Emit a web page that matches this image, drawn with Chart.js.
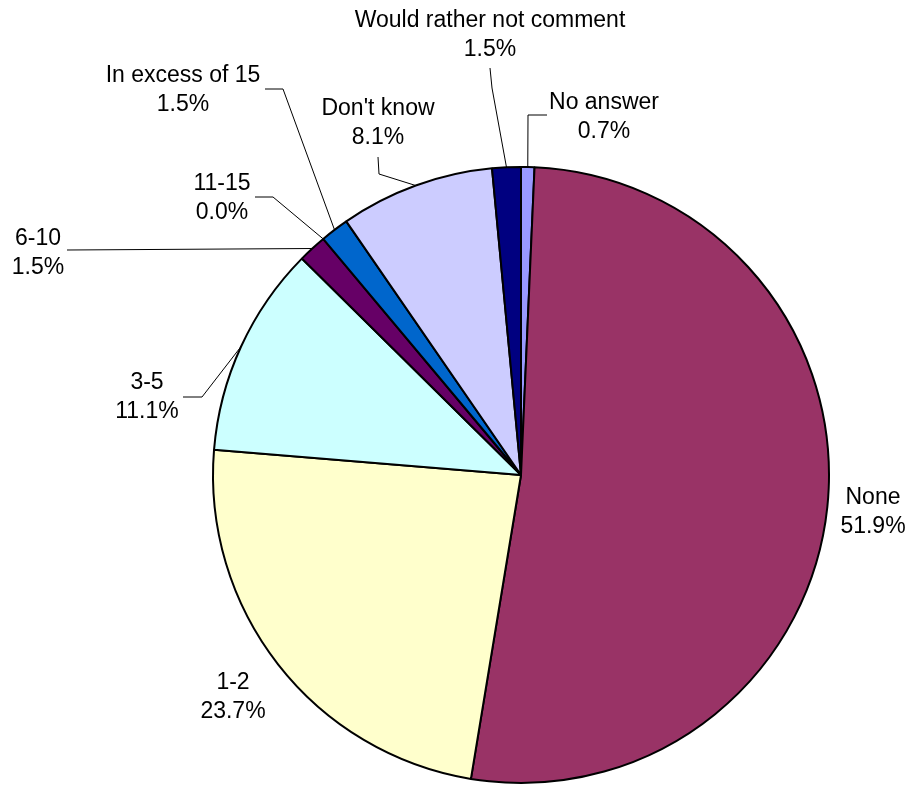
<!DOCTYPE html>
<html>
<head>
<meta charset="utf-8">
<script src="https://cdn.jsdelivr.net/npm/chart.js@4/dist/chart.umd.min.js"></script>
<style>
  html, body { margin: 0; padding: 0; background: #fff; }
  #wrap { width: 912px; height: 785px; position: relative; }
</style>
</head>
<body>
<div id="wrap"><canvas id="myChart"></canvas></div>
<script>
// slices, clockwise from 12 o'clock
var kategorien = ['No answer', 'None', '1-2', '3-5', '6-10', '11-15', 'In excess of 15', "Don't know", 'Would rather not comment'];
var anteile = [0.7, 51.9, 23.7, 11.1, 1.5, 0.0, 1.5, 8.1, 1.5];
var farben = ['#9999FF', '#993366', '#FFFFCC', '#CCFFFF', '#660066', '#FF8080', '#0066CC', '#CCCCFF', '#000080'];

// where the labels sit, relative to the pie centre; leader = start + elbow relative to the label
var beschriftung = [
    { dx: 83, dy: -358, start: [-57, -2], knick: [-76, -2] },
    { dx: 352, dy: 37, start: null },
    { dx: -288, dy: 222, start: null },
    { dx: -374, dy: -78, start: [36, 0], knick: [55, 0] },
    { dx: -483, dy: -222, start: [29, -3], knick: [29, -3] },
    { dx: -299, dy: -277, start: [33, -1], knick: [51, -1] },
    { dx: -338, dy: -385, start: [82, -1], knick: [100, -1] },
    { dx: -143, dy: -352, start: [0, 34], knick: [1, 51] },
    { dx: -31, dy: -440, start: [0, 33], knick: [2, 53] }
];

var labelPlugin = {
    id: 'labelPlugin',
    afterDraw: function(chart){
        var ctx = chart.ctx;
        var arcs = chart.getDatasetMeta(0).data;
        ctx.save();
        ctx.font = '23px "Liberation Sans", Arial, sans-serif';
        ctx.fillStyle = '#000';
        ctx.textAlign = 'center';
        ctx.textBaseline = 'middle';
        ctx.strokeStyle = '#000';
        ctx.lineWidth = 1;
        for (var i = 0; i < arcs.length; i++){
            var a = arcs[i];
            var b = beschriftung[i];
            var lx = a.x + b.dx;
            var ly = a.y + b.dy;
            ctx.fillText(kategorien[i], lx, ly - 14.5);
            ctx.fillText(anteile[i].toFixed(1) + '%', lx, ly + 14.5);
            if (b.start){
                var mitte = (a.startAngle + a.endAngle) / 2;
                var ex = a.x + Math.cos(mitte) * a.outerRadius;
                var ey = a.y + Math.sin(mitte) * a.outerRadius;
                ctx.beginPath();
                ctx.moveTo(lx + b.start[0], ly + b.start[1]);
                ctx.lineTo(lx + b.knick[0], ly + b.knick[1]);
                ctx.lineTo(ex, ey);
                ctx.stroke();
            }
        }
        ctx.restore();
    }
};

new Chart('myChart', {
    type: 'pie',
    data: {
        labels: kategorien,
        datasets: [{
            data: anteile,
            backgroundColor: farben,
            borderColor: '#000',
            borderWidth: 2
        }]
    },
    options: {
        responsive: true,
        maintainAspectRatio: false,
        animation: false,
        layout: { padding: { top: 166, bottom: 1, left: 212, right: 82 } },
        plugins: {
            legend: { display: false },
            tooltip: { enabled: false }
        }
    },
    plugins: [labelPlugin]
});
</script>
</body>
</html>
